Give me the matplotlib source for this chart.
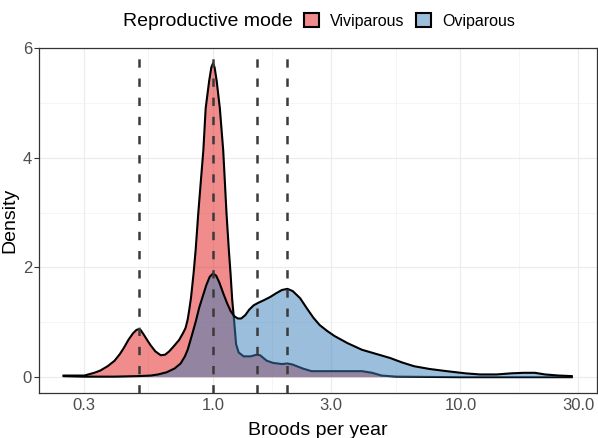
import numpy as np
import matplotlib
matplotlib.use('Agg')
import matplotlib.pyplot as plt
from matplotlib.patches import Patch
from matplotlib.colors import to_rgba

plt.rcParams['font.family'] = ['Liberation Sans', 'DejaVu Sans']
plt.rcParams['lines.scale_dashes'] = False

# density curves (x = broods per year, log scale)
viv_x = [0.249, 0.302, 0.331, 0.35, 0.375, 0.40, 0.42, 0.437, 0.455, 0.475,
         0.49, 0.50, 0.51, 0.526, 0.545, 0.56, 0.585, 0.615, 0.64, 0.665,
         0.696, 0.73, 0.76, 0.775, 0.79, 0.80, 0.815, 0.835, 0.851, 0.872,
         0.894, 0.914, 0.934, 0.965, 0.985, 1.0, 1.015, 1.035, 1.066, 1.10,
         1.134, 1.159, 1.177, 1.196, 1.214, 1.24, 1.27, 1.33, 1.42, 1.50,
         1.55, 1.65, 1.75, 1.9, 2.0, 2.1, 2.3, 2.5, 3.0, 4.0,
         4.4, 4.8, 5.5, 10.0, 28.2]
viv_d = [0.03, 0.03, 0.08, 0.12, 0.20, 0.30, 0.42, 0.54, 0.68, 0.80,
         0.86, 0.875, 0.86, 0.77, 0.66, 0.58, 0.47, 0.40, 0.41, 0.47,
         0.57, 0.68, 0.82, 0.90, 1.05, 1.20, 1.45, 1.90, 2.32, 2.99,
         3.60, 4.13, 4.90, 5.40, 5.65, 5.72, 5.65, 5.40, 4.90, 4.13,
         2.99, 2.32, 1.90, 1.41, 1.09, 0.60, 0.45, 0.38, 0.38, 0.41,
         0.40, 0.30, 0.26, 0.24, 0.25, 0.23, 0.16, 0.11, 0.11, 0.11,
         0.08, 0.03, 0.01, 0.0, 0.0]

ovi_x = [0.249, 0.302, 0.40, 0.50, 0.56, 0.60, 0.65, 0.70, 0.74, 0.77,
         0.79, 0.82, 0.85, 0.88, 0.91, 0.94, 0.97, 1.0, 1.03, 1.06,
         1.10, 1.14, 1.18, 1.22, 1.26, 1.30, 1.35, 1.40, 1.46, 1.53,
         1.60, 1.70, 1.80, 1.90, 2.0, 2.1, 2.25, 2.4, 2.55, 2.7,
         2.9, 3.1, 3.5, 4.0, 4.6, 5.2, 5.8, 6.5, 7.5, 8.8,
         10.5, 12.0, 14.0, 16.0, 18.0, 20.0, 22.0, 25.0, 28.2]
ovi_d = [0.02, 0.01, 0.01, 0.02, 0.03, 0.05, 0.09, 0.16, 0.25, 0.38,
         0.50, 0.75, 1.00, 1.27, 1.48, 1.68, 1.83, 1.89, 1.85, 1.73,
         1.53, 1.35, 1.20, 1.11, 1.07, 1.07, 1.13, 1.23, 1.31, 1.36,
         1.40, 1.46, 1.53, 1.59, 1.61, 1.57, 1.44, 1.25, 1.08, 0.95,
         0.84, 0.75, 0.62, 0.50, 0.42, 0.35, 0.27, 0.20, 0.15, 0.11,
         0.07, 0.05, 0.05, 0.07, 0.08, 0.08, 0.05, 0.03, 0.02]

vlines = [0.5, 1.0, 1.5, 2.0]
x_breaks = [0.3, 1, 3, 10, 30]
x_labels = ['0.3', '1.0', '3.0', '10.0', '30.0']
y_breaks = [0, 2, 4, 6]

red = '#E41A1C'
blue = '#377EB8'

fig = plt.figure(figsize=(5.98, 4.38), dpi=100)
ax = fig.add_axes([0.0652, 0.1030, 0.9323, 0.7881])

# grid (major + minor, ggplot style)
minor_x = [np.sqrt(a * b) for a, b in zip(x_breaks[:-1], x_breaks[1:])]
for v in x_breaks:
    ax.axvline(v, color='#EBEBEB', lw=0.8, zorder=0)
for v in minor_x:
    ax.axvline(v, color='#F2F2F2', lw=0.5, zorder=0)
for v in y_breaks:
    ax.axhline(v, color='#EBEBEB', lw=0.8, zorder=0)
for v in [1, 3, 5]:
    ax.axhline(v, color='#F2F2F2', lw=0.5, zorder=0)

ax.fill_between(viv_x, viv_d, 0, facecolor=red, alpha=0.5, lw=0, zorder=2)
ax.plot(viv_x, viv_d, color='black', lw=1.5, zorder=2)
ax.fill_between(ovi_x, ovi_d, 0, facecolor=blue, alpha=0.5, lw=0, zorder=3)
ax.plot(ovi_x, ovi_d, color='black', lw=1.5, zorder=3)

for v in vlines:
    ax.axvline(v, color='#3A3A3A', lw=1.8, ls=(0, (6, 7.8)), zorder=4)

ax.set_xscale('log')
ax.set_xlim(0.198, 35.5)
ax.set_ylim(-0.286, 6.006)
ax.set_xticks(x_breaks)
ax.set_xticklabels(x_labels)
ax.xaxis.set_minor_locator(matplotlib.ticker.NullLocator())
ax.set_yticks(y_breaks)
ax.tick_params(axis='x', length=0, pad=4, labelsize=12, labelcolor='#4D4D4D')
ax.tick_params(axis='y', length=3.5, width=0.8, color='#333333', pad=1.5,
               labelsize=12, labelcolor='#4D4D4D')
for s in ax.spines.values():
    s.set_color('#333333')
    s.set_linewidth(0.9)

ax.set_xlabel('Broods per year', fontsize=14, labelpad=6.5)
ax.set_ylabel('Density', fontsize=14, labelpad=3)

# legend on top
fig.text(123 / 598, 1 - 21 / 438, 'Reproductive mode', fontsize=14,
         ha='left', va='center')
handles = [Patch(facecolor=to_rgba(red, 0.5), edgecolor='black', lw=1.5),
           Patch(facecolor=to_rgba(blue, 0.5), edgecolor='black', lw=1.5)]
fig.legend(handles, ['Viviparous', 'Oviparous'], loc='center left',
           bbox_to_anchor=(304 / 598, 1 - 21 / 438), ncol=2, frameon=False,
           fontsize=11.5, handlelength=0.95, handleheight=0.95,
           handletextpad=0.7, columnspacing=0.7, borderpad=0, borderaxespad=0)

fig.savefig('out.png', dpi=100)
